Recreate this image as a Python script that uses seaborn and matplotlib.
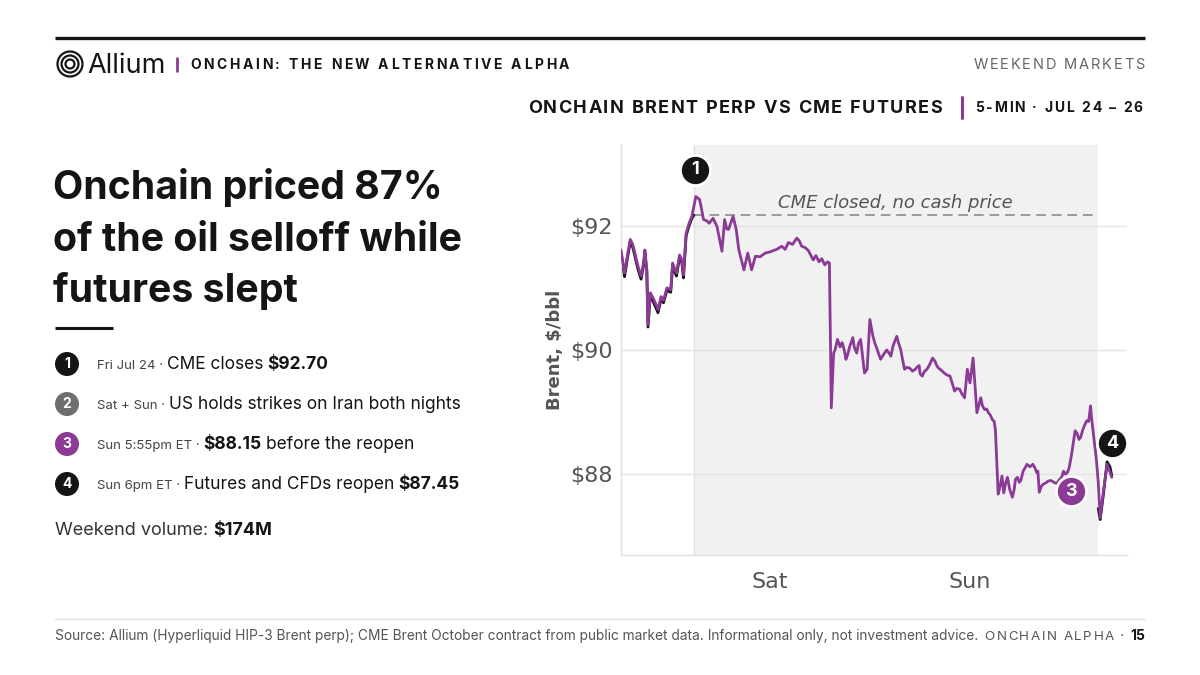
import matplotlib
matplotlib.use("Agg")
import matplotlib.pyplot as plt
import pandas as pd
import seaborn as sns
from matplotlib.patches import Circle

# ---- data (hours from Sat 00:00, $/bbl) ----
perp_hours = [-17.9, -17.48, -17.1, -16.79, -16.5, -16.32, -15.86, -15.49, -15.2, -15.03,
              -14.8, -14.66, -14.38, -14.1, -13.78, -13.46, -13.09, -12.8, -12.39, -11.93,
              -11.7, -11.45, -11.24, -10.87, -10.6, -10.4, -10.08, -9.7, -9.39, -8.92,
              -8.7, -8.46, -8.2, -8.0, -7.6, -7.31, -6.84, -6.38, -5.78, -5.46,
              -5.2, -4.99, -4.44, -4.07, -3.75, -3.14, -2.68, -2.22, -1.76, -1.2,
              -0.6, 0.0, 0.79, 1.4, 1.8, 2.2, 2.7, 3.2, 3.5, 3.79,
              4.2, 4.6, 5.18, 5.5, 5.87, 6.2, 6.57, 6.9, 7.12, 7.35,
              7.63, 7.8, 8.09, 8.4, 8.65, 8.9, 9.11, 9.3, 9.57, 9.94,
              10.1, 10.4, 10.6, 10.87, 11.33, 11.65, 11.98, 12.35, 12.6, 12.81,
              13.0, 13.27, 13.5, 13.73, 14.0, 14.29, 14.5, 14.75, 15.0, 15.21,
              15.45, 15.68, 15.9, 16.14, 16.4, 16.74, 17.1, 17.43, 17.6, 17.9,
              18.0, 18.27, 18.5, 18.82, 19.1, 19.51, 19.8, 20.0, 20.21, 20.5,
              20.9, 21.2, 21.6, 21.9, 22.15, 22.4, 22.75, 23.0, 23.35, 23.68,
              24.0, 24.37, 24.83, 25.29, 25.5, 25.76, 26.0, 26.22, 26.45, 26.68,
              26.9, 27.05, 27.38, 27.6, 27.84, 28.05, 28.3, 28.5, 28.76, 29.09,
              29.3, 29.46, 29.7, 29.92, 30.1, 30.38, 30.6, 30.84, 31.2, 31.54,
              31.8, 32.0, 32.15, 32.32, 32.55, 32.79, 33.1, 33.39, 33.7, 34.08,
              34.4, 34.77, 35.0, 35.24, 35.45, 35.7, 35.9, 36.16, 36.4, 36.62,
              36.85, 37.09, 37.3, 37.55, 37.8, 38.01, 38.25, 38.47, 38.6, 38.8,
              39.17, 39.4, 39.63, 40.0, 40.46, 41.02]
perp_price = [91.61, 91.24, 91.55, 91.78, 91.70, 91.61, 91.35, 91.19, 91.40, 91.61,
              91.30, 90.41, 90.92, 90.85, 90.76, 90.65, 90.86, 90.80, 91.00, 90.97,
              91.40, 91.30, 91.24, 91.53, 91.45, 91.21, 91.88, 92.05, 92.15, 92.47,
              92.45, 92.42, 92.25, 92.10, 92.08, 92.04, 92.12, 91.99, 91.59, 92.10,
              91.95, 91.94, 92.15, 91.94, 91.61, 91.29, 91.56, 91.29, 91.51, 91.50,
              91.56, 91.58, 91.62, 91.67, 91.62, 91.73, 91.70, 91.80, 91.76, 91.67,
              91.65, 91.60, 91.45, 91.52, 91.42, 91.47, 91.37, 91.42, 91.40, 89.07,
              89.95, 90.00, 90.17, 90.05, 90.12, 90.00, 89.85, 89.92, 90.06, 90.20,
              90.05, 89.95, 90.10, 90.17, 89.63, 89.69, 90.49, 90.22, 90.10, 90.03,
              89.95, 89.85, 89.90, 89.95, 90.00, 89.95, 89.90, 90.06, 90.15, 90.22,
              90.10, 90.01, 89.85, 89.69, 89.72, 89.71, 89.66, 89.69, 89.72, 89.75,
              89.62, 89.58, 89.65, 89.69, 89.75, 89.87, 89.82, 89.75, 89.71, 89.68,
              89.63, 89.60, 89.58, 89.45, 89.34, 89.38, 89.37, 89.30, 89.23, 89.69,
              89.47, 89.87, 88.99, 89.23, 89.10, 89.04, 89.05, 88.99, 88.95, 88.88,
              88.85, 88.72, 87.68, 87.80, 87.97, 87.70, 87.87, 87.95, 87.76, 87.63,
              87.75, 87.92, 87.95, 87.87, 87.90, 88.05, 88.10, 88.16, 88.12, 88.16,
              88.10, 88.03, 88.05, 87.71, 87.80, 87.84, 87.86, 87.89, 87.90, 87.87,
              87.85, 87.92, 87.95, 88.05, 88.00, 88.03, 88.10, 88.29, 88.50, 88.70,
              88.66, 88.56, 88.60, 88.72, 88.80, 88.86, 88.85, 89.10, 88.90, 88.67,
              88.24, 87.87, 87.30, 87.71, 88.16, 87.95]

cme_hours = [-17.9, -17.48, -17.1, -16.79, -16.5, -16.32, -15.86, -15.49, -15.2, -15.03,
             -14.8, -14.66, -14.38, -14.1, -13.78, -13.46, -13.09, -12.8, -12.39, -11.93,
             -11.7, -11.45, -11.24, -10.87, -10.6, -10.4, -10.08, -9.7, -9.39, -9.15,
             39.4, 39.63, 40.0, 40.46, 40.8, 41.02]
cme_price = [91.56, 91.18, 91.50, 91.74, 91.66, 91.56, 91.30, 91.14, 91.36, 91.57,
             91.26, 90.37, 90.88, 90.80, 90.70, 90.60, 90.82, 90.76, 90.96, 90.93,
             91.36, 91.26, 91.19, 91.49, 91.41, 91.16, 91.84, 92.01, 92.12, 92.17,
             87.45, 87.27, 87.66, 88.20, 88.12, 87.98]
cme_segment = ["fri"] * 30 + ["sun"] * 6

cme_close_hour = -9.15
cme_reopen_hour = 39.4
cme_last_price = 92.17

day_ticks = [0, 24]
day_labels = ["Sat", "Sun"]
price_ticks = [88, 90, 92]
price_labels = ["$88", "$90", "$92"]

steps = [
    ("1", "#151515", [("Fri Jul 24 ·", "s", "normal"), ("CME closes", "m", "normal"), ("$92.70", "m", "bold")]),
    ("2", "#6e6e6e", [("Sat + Sun ·", "s", "normal"), ("US holds strikes on Iran both nights", "m", "normal")]),
    ("3", "#8b3a96", [("Sun 5:55pm ET ·", "s", "normal"), ("$88.15", "m", "bold"), ("before the reopen", "m", "normal")]),
    ("4", "#151515", [("Sun 6pm ET ·", "s", "normal"), ("Futures and CFDs reopen", "m", "normal"), ("$87.45", "m", "bold")]),
]

PURPLE = "#8b3a96"
INK = "#151515"

sns.set_theme(style="white")
plt.rcParams["font.family"] = ["DejaVu Sans"]

fig = plt.figure(figsize=(12, 6.75), dpi=100)
fig.patch.set_facecolor("white")
renderer = fig.canvas.get_renderer()

# overlay in pixel coordinates
bg = fig.add_axes([0, 0, 1, 1])
bg.set_xlim(0, 1200)
bg.set_ylim(675, 0)
bg.axis("off")

UI = ["Inter", "DejaVu Sans"]


def width_of(t):
    return t.get_window_extent(renderer).width


def pieces(x, y, parts, gap=5):
    # parts: (text, size, weight, color)
    for txt, size, weight, color in parts:
        t = bg.text(x, y, txt, fontsize=size, fontweight=weight, color=color,
                    family=UI, va="baseline", ha="left")
        x += width_of(t) + gap
    return x


def tracked(x, y, s, size, weight, color, spacing, ha="left"):
    ts = []
    cur = x
    for ch in s:
        if ch == " ":
            cur += size * 0.38 + spacing
            continue
        t = bg.text(cur, y, ch, fontsize=size, fontweight=weight, color=color,
                    family=UI, va="baseline", ha="left")
        ts.append(t)
        cur += width_of(t) + spacing
    total = cur - spacing - x
    if ha == "right":
        for t in ts:
            t.set_x(t.get_position()[0] - total)
    return total


# ---- header ----
bg.plot([55, 1145], [38, 38], color=INK, lw=2.4, solid_capstyle="butt")
for r in [12.5, 8.5, 4.5]:
    bg.add_patch(Circle((70, 64), r, fill=False, ec=INK, lw=1.6))
bg.text(87, 73, "Allium", fontsize=19.5, color=INK, family=UI, va="baseline")
bg.plot([177, 177], [58, 71], color=PURPLE, lw=2)
tracked(190, 69, "ONCHAIN: THE NEW ALTERNATIVE ALPHA", 10, "bold", INK, 2.6)
tracked(1145, 69, "WEEKEND MARKETS", 10.5, "normal", "#666666", 1.9, ha="right")

tracked(942, 113, "ONCHAIN BRENT PERP VS CME FUTURES", 13, "bold", INK, 1.4, ha="right")
bg.plot([962, 962], [97, 118], color=PURPLE, lw=2.2)
tracked(975, 112, "5-MIN · JUL 24 – 26", 10, "bold", INK, 1.8)

# ---- headline ----
for yy, line in zip([199, 251, 302], ["Onchain priced 87%", "of the oil selloff while", "futures slept"]):
    bg.text(53, yy, line, fontsize=28.3, fontweight="bold", color=INK, family=UI,
            va="baseline")
bg.plot([55, 113], [328, 328], color=INK, lw=2.2, solid_capstyle="butt")

# ---- numbered list ----
for i, (num, col, parts) in enumerate(steps):
    cy = 364 + 40 * i
    bg.add_patch(Circle((67, cy), 12, color=col, ec="none"))
    bg.text(67, cy + 0.5, num, fontsize=10, fontweight="bold", color="white",
            family=UI, ha="center", va="center")
    styled = []
    for txt, kind, weight in parts:
        if kind == "s":
            styled.append((txt, 9.5, "normal", "#444444"))
        else:
            styled.append((txt, 12.5, weight, INK))
    pieces(97, cy + 5, styled, gap=4)

pieces(55, 535, [("Weekend volume:", 13, "normal", "#333333"), ("$174M", 13, "bold", INK)], gap=5)

# ---- footer ----
bg.plot([55, 1145], [619, 619], color="#e2e2e2", lw=1)
bg.text(55, 640, "Source: Allium (Hyperliquid HIP-3 Brent perp); CME Brent October contract "
        "from public market data. Informational only, not investment advice.",
        fontsize=9.9, color="#555555", family=UI, va="baseline")
t15 = bg.text(1145, 640, "15", fontsize=10, fontweight="bold", color=INK, family=UI,
              va="baseline", ha="right")
xdot = 1145 - width_of(t15) - 6
bg.text(xdot, 640, "·", fontsize=10, color="#555555", family=UI, va="baseline", ha="right")
tracked(xdot - 10, 640, "ONCHAIN ALPHA", 9.6, "normal", "#555555", 1.6, ha="right")

# ---- chart ----
ax = fig.add_axes([621 / 1200, 1 - 555 / 675, 506 / 1200, 410 / 675])
ax.set_facecolor("white")
ax.axvspan(cme_close_hour, cme_reopen_hour, color="#f1f1f1", zorder=0, lw=0)
ax.axvline(cme_close_hour, color="#e2e2e2", lw=1, zorder=0.5)
for p in price_ticks:
    ax.axhline(p, color="#e3e3e3", lw=1, zorder=0.6)

ax.plot([cme_close_hour, cme_reopen_hour], [cme_last_price, cme_last_price],
        color="#9a9a9a", lw=1.4, ls=(0, (5, 3)), zorder=1)
ax.text(15, 92.37, "CME closed, no cash price", fontsize=13, style="italic",
        color="#555555", ha="center", va="center")

cme_df = pd.DataFrame({"hour": cme_hours, "price": cme_price, "seg": cme_segment})
perp_df = pd.DataFrame({"hour": perp_hours, "price": perp_price})
sns.lineplot(data=cme_df, x="hour", y="price", units="seg", estimator=None,
             color=INK, lw=2.0, ax=ax, zorder=2)
sns.lineplot(data=perp_df, x="hour", y="price", color=PURPLE, lw=2.0, ax=ax, zorder=3)

marks = [("1", -9.0, 92.9, INK), ("3", 36.1, 87.73, PURPLE), ("4", 41.05, 88.5, INK)]
for lab, mx, my, mc in marks:
    ax.scatter([mx], [my], s=470, color=mc, edgecolor="white", linewidth=2, zorder=5,
               clip_on=False)
    ax.text(mx, my, lab, fontsize=13, fontweight="bold", color="white", ha="center",
            va="center", zorder=6, family=UI)

ax.set_xlim(-17.9, 42.85)
ax.set_ylim(86.7, 93.3)
ax.set_xticks(day_ticks)
ax.set_xticklabels(day_labels)
ax.set_yticks(price_ticks)
ax.set_yticklabels(price_labels)
ax.tick_params(axis="both", length=0, labelsize=16, labelcolor="#555555")
ax.tick_params(axis="x", pad=12)
ax.tick_params(axis="y", pad=6)
ax.set_xlabel("")
ax.set_ylabel("Brent, $/bbl", fontsize=13, fontweight="bold", color="#555555", labelpad=4)
for side in ["top", "right"]:
    ax.spines[side].set_visible(False)
for side in ["left", "bottom"]:
    ax.spines[side].set_color("#e0e0e0")
    ax.spines[side].set_linewidth(1)

fig.savefig("out.png", dpi=100)
